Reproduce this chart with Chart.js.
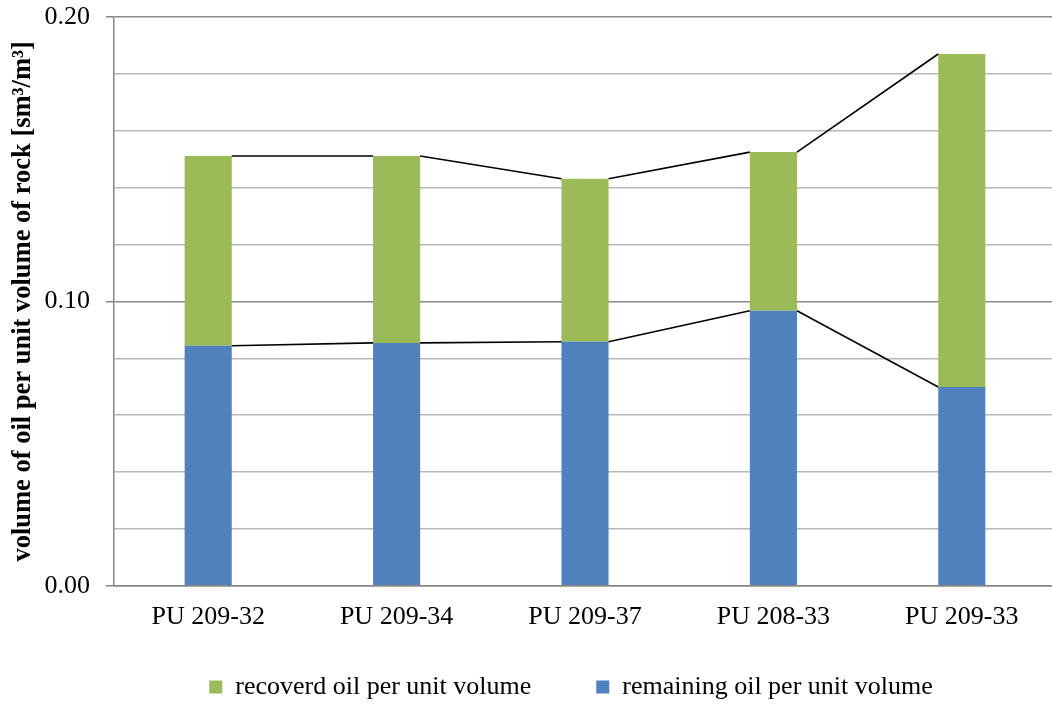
<!DOCTYPE html>
<html>
<head>
<meta charset="utf-8">
<script src="https://cdn.jsdelivr.net/npm/chart.js@4.4.1/dist/chart.umd.min.js"></script>
<style>
html,body{margin:0;padding:0;background:#fff;overflow:hidden;}
#wrap{width:1060px;height:706px;position:relative;}
</style>
</head>
<body>
<div id="wrap"><canvas id="c"></canvas></div>
<script>
const categories = ['PU 209-32', 'PU 209-34', 'PU 209-37', 'PU 208-33', 'PU 209-33'];
const remainingOil = [0.0844, 0.0854, 0.0858, 0.0967, 0.0699];
const recoveredOil = [0.0667, 0.0657, 0.0573, 0.0558, 0.1171];
const yMin = 0, yMax = 0.20, yStep = 0.02;
const yAxisTitle = 'volume of oil per unit volume of rock [sm³/m³]';

const FONT = '"Liberation Serif", "Times New Roman", serif';

const seriesLines = {
  id: 'seriesLines',
  afterLayout(chart) {
    const lg = chart.legend;
    if (lg) {
      lg.left += 43; lg.right += 43;
      const dy = 609 - lg.top;
      lg.top += dy; lg.bottom += dy;
    }
  },
  afterDatasetsDraw(chart) {
    const ctx = chart.ctx;
    ctx.save();
    ctx.strokeStyle = '#000';
    ctx.lineWidth = 1.6;
    chart.data.datasets.forEach((ds, di) => {
      const meta = chart.getDatasetMeta(di);
      if (meta.hidden) return;
      for (let i = 0; i < meta.data.length - 1; i++) {
        const a = meta.data[i], b = meta.data[i + 1];
        ctx.beginPath();
        ctx.moveTo(a.x + a.width / 2, a.y);
        ctx.lineTo(b.x - b.width / 2, b.y);
        ctx.stroke();
      }
    });
    ctx.restore();
  }
};

const isMajor = v => Math.abs(Math.round(v * 100) % 10) === 0;

new Chart(document.getElementById('c'), {
  type: 'bar',
  data: {
    labels: categories,
    datasets: [
      { label: 'remaining oil per unit volume', data: remainingOil, backgroundColor: '#4F81BD', borderWidth: 0, barPercentage: 1, categoryPercentage: 0.25 },
      { label: 'recoverd oil per unit volume', data: recoveredOil, backgroundColor: '#9BBB59', borderWidth: 0, barPercentage: 1, categoryPercentage: 0.25 }
    ]
  },
  options: {
    responsive: true,
    maintainAspectRatio: false,
    animation: false,
    layout: { padding: { left: 0, right: 4, top: 0, bottom: -36 } },
    plugins: {
      legend: {
        position: 'bottom',
        reverse: true,
        labels: {
          font: { family: FONT, size: 26 },
          color: '#000',
          boxWidth: 13,
          boxHeight: 13,
          padding: 65
        }
      },
      tooltip: { enabled: false }
    },
    scales: {
      x: {
        stacked: true,
        grid: { display: false },
        border: { display: true, color: '#868686', width: 1.5 },
        ticks: { font: { family: FONT, size: 26 }, color: '#000', padding: 8 }
      },
      y: {
        stacked: true,
        min: yMin,
        max: yMax,
        border: { display: true, color: '#868686', width: 1.5 },
        grid: {
          color: ctx => (ctx.tick && isMajor(ctx.tick.value)) ? '#8a8a8a' : '#b8b8b8',
          lineWidth: 1.5,
          tickLength: 8,
          tickColor: ctx => (ctx.tick && isMajor(ctx.tick.value)) ? '#868686' : 'rgba(0,0,0,0)'
        },
        ticks: {
          stepSize: yStep,
          autoSkip: false,
          font: { family: FONT, size: 26 },
          color: '#000',
          padding: 16,
          callback: v => isMajor(v) ? v.toFixed(2) : ''
        },
        title: {
          display: true,
          text: yAxisTitle,
          font: { family: FONT, size: 26.5, weight: 'bold' },
          color: '#000',
          padding: { top: 7, bottom: 0 }
        },
        afterFit: s => { s.width = 114; s.paddingTop = 17; s.paddingBottom = 0; }
      }
    }
  },
  plugins: [seriesLines]
});
</script>
</body>
</html>
